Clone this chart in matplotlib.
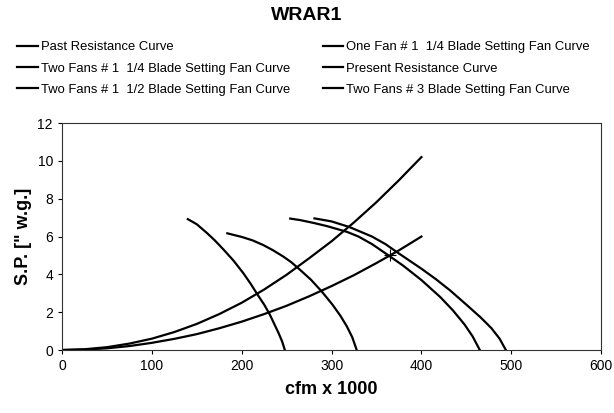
import matplotlib
matplotlib.use('Agg')
import matplotlib.pyplot as plt

plt.rcParams['font.family'] = ['Liberation Sans', 'DejaVu Sans']

# resistance curves (cfm x 1000, S.P.)
past_x = [0, 25, 50, 75, 100, 125, 150, 175, 200, 225, 250, 275, 300, 325, 350, 375, 400]
past_y = [0, 0.04, 0.15, 0.34, 0.6, 0.95, 1.38, 1.9, 2.5, 3.2, 3.98, 4.85, 5.75, 6.75, 7.82, 8.98, 10.2]
present_x = [0, 25, 50, 75, 100, 125, 150, 175, 200, 225, 250, 275, 300, 325, 350, 375, 400]
present_y = [0, 0.02, 0.09, 0.21, 0.38, 0.59, 0.84, 1.15, 1.5, 1.9, 2.34, 2.84, 3.38, 3.96, 4.6, 5.27, 6.0]

# fan curves
one_fan_114_x = [140, 150, 161, 170, 180, 191, 202, 210, 218, 225, 231, 236, 241, 245, 248]
one_fan_114_y = [6.92, 6.65, 6.2, 5.8, 5.3, 4.72, 4.05, 3.5, 2.9, 2.4, 1.9, 1.4, 0.9, 0.45, 0]
two_fans_3_x = [184, 200, 212, 224, 235, 246, 255, 264, 277, 289, 301, 310, 317, 323, 328]
two_fans_3_y = [6.17, 5.98, 5.8, 5.55, 5.27, 4.95, 4.65, 4.28, 3.72, 3.1, 2.4, 1.8, 1.25, 0.68, 0]
two_fans_112_x = [254, 265, 280, 295, 317, 330, 345, 365, 380, 400, 421, 435, 448, 457, 465]
two_fans_112_y = [6.95, 6.87, 6.72, 6.55, 6.25, 6.0, 5.6, 4.95, 4.45, 3.7, 2.8, 2.1, 1.35, 0.72, 0]
two_fans_114_x = [281, 300, 320, 345, 360, 372, 386, 400, 416, 432, 450, 466, 478, 487, 494]
two_fans_114_y = [6.96, 6.8, 6.5, 6.0, 5.6, 5.2, 4.75, 4.3, 3.75, 3.15, 2.4, 1.72, 1.15, 0.6, 0]

oper_x = [365]
oper_y = [5.0]

xticks = [0, 100, 200, 300, 400, 500, 600]
yticks = [0, 2, 4, 6, 8, 10, 12]

fig = plt.figure(figsize=(6.14, 4.13), dpi=100)
ax = fig.add_axes([0.101, 0.1525, 0.878, 0.5495])

lw = 1.6
l_past, = ax.plot(past_x, past_y, 'k', lw=lw)
l_one, = ax.plot(one_fan_114_x, one_fan_114_y, 'k', lw=lw)
l_two114, = ax.plot(two_fans_114_x, two_fans_114_y, 'k', lw=lw)
l_pres, = ax.plot(present_x, present_y, 'k', lw=lw)
l_two112, = ax.plot(two_fans_112_x, two_fans_112_y, 'k', lw=lw)
l_two3, = ax.plot(two_fans_3_x, two_fans_3_y, 'k', lw=lw)
ax.plot(oper_x, oper_y, '+', color='k', ms=9, mew=0.8)

ax.set_xlim(0, 600)
ax.set_ylim(0, 12)
ax.set_xticks(xticks)
ax.set_yticks(yticks)
ax.tick_params(labelsize=10, direction='out', length=3, width=0.8, colors='k')
for s in ax.spines.values():
    s.set_color('#333333')
    s.set_linewidth(0.8)

ax.set_xlabel('cfm x 1000', fontsize=13, fontweight='bold', labelpad=6)
ax.set_ylabel('S.P. [" w.g.]', fontsize=13, fontweight='bold', labelpad=4)

fig.text(0.5, 0.962, 'WRAR1', ha='center', va='center', fontsize=14, fontweight='bold')

handles = [l_past, l_two114, l_two112, l_one, l_pres, l_two3]
labels = ['Past Resistance Curve',
          'Two Fans # 1  1/4 Blade Setting Fan Curve',
          'Two Fans # 1  1/2 Blade Setting Fan Curve',
          'One Fan # 1  1/4 Blade Setting Fan Curve',
          'Present Resistance Curve',
          'Two Fans # 3 Blade Setting Fan Curve']
fig.legend(handles, labels, ncol=2, loc='upper left', bbox_to_anchor=(0.028, 0.9),
           frameon=False, fontsize=9.4, handlelength=1.6, handletextpad=0.2,
           labelspacing=0.7, columnspacing=2.5, borderpad=0, borderaxespad=0)

fig.savefig('out.png', dpi=100)
